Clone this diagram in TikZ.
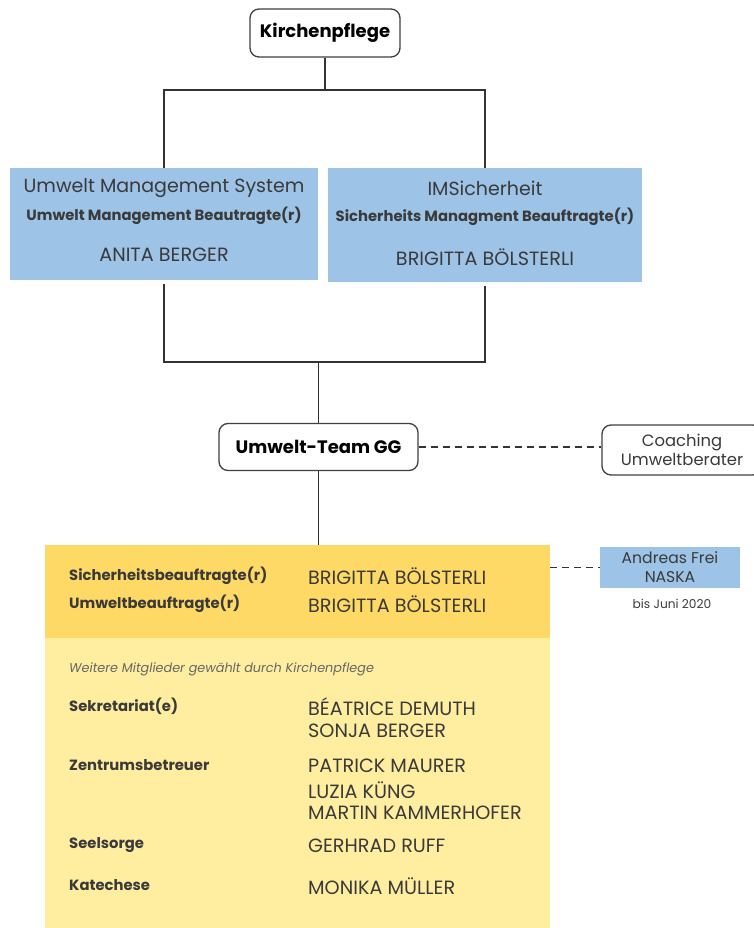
\documentclass[tikz,border=0pt]{standalone}
\usepackage{fontspec}
\setmainfont{Poppins}
\usetikzlibrary{positioning}
\definecolor{boxblue}{HTML}{9DC3E6}
\definecolor{teamyellow}{HTML}{FFD966}
\definecolor{memberyellow}{HTML}{FFEDA0}
\definecolor{textgray}{HTML}{3A3A3A}

\begin{document}
\begin{tikzpicture}[x=1pt, y=-1pt,
        roundbox/.style={rectangle, rounded corners=9pt, draw=black!75, line width=1.3pt, fill=white, align=center, inner sep=0pt},
        bluebox/.style={rectangle, fill=boxblue, inner sep=0pt},
        yellowbox/.style={rectangle, inner sep=0pt, anchor=north west, minimum width=505pt},
        title/.style={font=\fontsize{19}{22}\selectfont, text=textgray},
        role/.style={font=\fontsize{14.8}{17}\selectfont\bfseries, text=textgray, inner sep=0pt},
        person/.style={font=\fontsize{19.2}{23}\selectfont, text=textgray, inner sep=0pt},
        link/.style={draw=black!80, line width=1.5pt},
        dashlink/.style={draw=black!80, line width=1.5pt, dash pattern=on 7pt off 5pt}
    ]
    \useasboundingbox (0,0) rectangle (753,928);

    % Kirchenpflege
    \node[roundbox, minimum width=150pt, minimum height=48pt, font=\fontsize{18}{21}\selectfont\bfseries] at (325,33) (kp) {Kirchenpflege};

    % Management systems
    \node[bluebox, minimum width=308pt, minimum height=112pt] at (164,224) (ums) {};
    \node[title] at (164,188) (umsTitle) {Umwelt Management System};
    \node[role] at (164,216) (umsRole) {Umwelt Management Beautragte(r)};
    \node[person] at (164,255) (umsName) {ANITA BERGER};

    \node[bluebox, minimum width=314pt, minimum height=113pt] at (485,225) (ims) {};
    \node[title] at (485,188) (imsTitle) {IMSicherheit};
    \node[role] at (485,217) (imsRole) {Sicherheits Managment Beauftragte(r)};
    \node[person] at (485,257) (imsName) {BRIGITTA BÖLSTERLI};

    % Umwelt-Team
    \node[roundbox, minimum width=199pt, minimum height=47pt, font=\fontsize{18}{21}\selectfont\bfseries] at (318.5,447) (ugg) {Umwelt-Team GG};
    \node[roundbox, minimum width=160pt, minimum height=50pt, font=\fontsize{16.4}{19}\selectfont, text=textgray] at (682,450) (coach) {Coaching\\Umweltberater};

    % Team box
    \node[yellowbox, fill=teamyellow, minimum height=93pt] at (45,545) (team) {};
    \node[yellowbox, fill=memberyellow, minimum height=290pt] at (45,638) (members) {};

    \node[role, anchor=west] at (69,576) (sibRole) {Sicherheitsbeauftragte(r)};
    \node[person, anchor=west] at (308,576) (sibName) {BRIGITTA BÖLSTERLI};
    \node[role, anchor=west] at (69,604) (uwbRole) {Umweltbeauftragte(r)};
    \node[person, anchor=west] at (308,604) (uwbName) {BRIGITTA BÖLSTERLI};

    % NASKA
    \node[bluebox, minimum width=140pt, minimum height=41pt, align=center, font=\fontsize{15.6}{19}\selectfont, text=textgray] at (670,567.5) (naska) {Andreas Frei\\NASKA};
    \node[font=\fontsize{12.2}{14}\selectfont, text=textgray] at (672,604) (naskaNote) {bis Juni 2020};

    % Further members
    \node[anchor=west, inner sep=0pt, font=\fontsize{12.8}{15}\selectfont\itshape, text=black!60] at (69,669) (further) {Weitere Mitglieder gewählt durch Kirchenpflege};

    \node[role, anchor=west] at (69,706) (sekRole) {Sekretariat(e)};
    \node[person, anchor=west] at (308,707) (sekName1) {BÉATRICE DEMUTH};
    \node[person, anchor=west] at (308,731) (sekName2) {SONJA BERGER};

    \node[role, anchor=west] at (69,765) (zenRole) {Zentrumsbetreuer};
    \node[person, anchor=west] at (308,766) (zenName1) {PATRICK MAURER};
    \node[person, anchor=west] at (308,790) (zenName2) {LUZIA KÜNG};
    \node[person, anchor=west] at (308,813) (zenName3) {MARTIN KAMMERHOFER};

    \node[role, anchor=west] at (69,845) (seeRole) {Seelsorge};
    \node[person, anchor=west] at (308,846) (seeName) {GERHRAD RUFF};

    \node[role, anchor=west] at (69,885) (katRole) {Katechese};
    \node[person, anchor=west] at (308,886) (katName) {MONIKA MÜLLER};

    % Lines
    \coordinate (topbus) at (325,90);
    \coordinate (lowbus) at (318.5,362);
    \draw[link] (kp.south) -- (topbus);
    \draw[link] (ums.north) |- (topbus) -| (ims.north);
    \draw[link] ([yshift=-4pt]ums.south) |- (lowbus) -| ([yshift=-4pt]ims.south);
    \draw[link] (lowbus) -- (ugg.north);
    \draw[link] (ugg.south) -- (ugg.south |- team.north);
    \draw[dashlink] (ugg.east) -- (ugg.east -| coach.west);
    \draw[dashlink] (team.east |- naska.west) -- (naska.west);

\end{tikzpicture}
\end{document}
